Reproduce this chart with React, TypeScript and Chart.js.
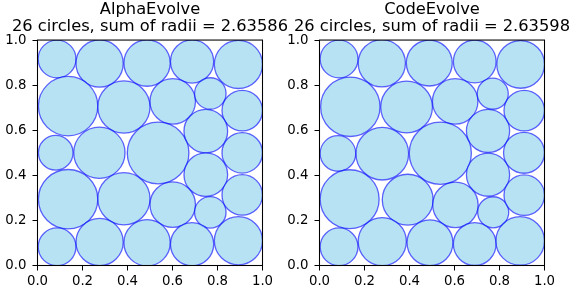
import React, { useEffect, useRef } from 'react';
import { Chart, registerables } from 'chart.js';

Chart.register(...registerables);

// ---- data ----
const tickValues = [0, 0.2, 0.4, 0.6, 0.8, 1.0];
const tickLabels = ['0.0', '0.2', '0.4', '0.6', '0.8', '1.0'];

const alphaTitle = ['AlphaEvolve', '26 circles, sum of radii = 2.63586'];
const alphaX = [0.087, 0.276, 0.487, 0.687, 0.893, 0.136, 0.384, 0.601, 0.768, 0.910, 0.081, 0.275, 0.536, 0.748, 0.748, 0.910, 0.136, 0.384, 0.601, 0.768, 0.910, 0.087, 0.276, 0.487, 0.687, 0.893];
const alphaY = [0.916, 0.896, 0.898, 0.905, 0.892, 0.707, 0.703, 0.728, 0.763, 0.687, 0.500, 0.500, 0.499, 0.596, 0.403, 0.500, 0.294, 0.296, 0.270, 0.236, 0.313, 0.083, 0.104, 0.101, 0.094, 0.110];
const alphaR = [0.084, 0.105, 0.103, 0.096, 0.107, 0.132, 0.116, 0.101, 0.070, 0.090, 0.077, 0.114, 0.137, 0.097, 0.097, 0.090, 0.132, 0.116, 0.101, 0.070, 0.090, 0.084, 0.105, 0.103, 0.096, 0.107];

const codeTitle = ['CodeEvolve', '26 circles, sum of radii = 2.63598'];
const codeX = [0.087, 0.277, 0.488, 0.690, 0.894, 0.137, 0.387, 0.603, 0.770, 0.910, 0.082, 0.279, 0.537, 0.749, 0.749, 0.909, 0.134, 0.392, 0.604, 0.772, 0.910, 0.087, 0.279, 0.491, 0.690, 0.892];
const codeY = [0.916, 0.897, 0.898, 0.905, 0.892, 0.704, 0.703, 0.728, 0.762, 0.687, 0.497, 0.496, 0.498, 0.597, 0.403, 0.500, 0.294, 0.292, 0.269, 0.236, 0.312, 0.083, 0.106, 0.101, 0.095, 0.109];
const codeR = [0.084, 0.105, 0.102, 0.095, 0.106, 0.132, 0.115, 0.101, 0.069, 0.090, 0.079, 0.117, 0.138, 0.096, 0.096, 0.091, 0.131, 0.113, 0.101, 0.069, 0.090, 0.084, 0.107, 0.102, 0.095, 0.108];

const FONT = 'DejaVu Sans';

const framePlugin = {
  id: 'frame',
  afterDatasetsDraw(chart: any) {
    const { ctx, chartArea: a } = chart;
    ctx.save();
    ctx.strokeStyle = '#000';
    ctx.lineWidth = 1.07;
    ctx.strokeRect(a.left, a.top, a.right - a.left, a.bottom - a.top);
    ctx.restore();
  },
};

function axisOpts(position: string, fit: (s: any) => void) {
  return {
    type: 'linear',
    position,
    min: 0,
    max: 1,
    grid: {
      display: true,
      drawOnChartArea: false,
      drawTicks: true,
      tickLength: 5,
      color: '#000',
      lineWidth: 1,
    },
    border: { display: false },
    ticks: {
      padding: position === 'bottom' ? 3 : 6,
      color: '#000',
      font: { family: FONT, size: 13.3 },
      maxRotation: 0,
      autoSkip: false,
      callback: (_v: any, i: number) => tickLabels[i],
    },
    afterBuildTicks: (s: any) => {
      s.ticks = tickValues.map((v) => ({ value: v }));
    },
    afterFit: fit,
  };
}

function makeConfig(title: string[], xs: number[], ys: number[], rs: number[]): any {
  const data = xs.map((x, i) => ({ x, y: ys[i], rad: rs[i] }));
  return {
    type: 'scatter',
    data: {
      datasets: [
        {
          data,
          showLine: false,
          pointBackgroundColor: 'rgba(135,206,235,0.6)',
          pointBorderColor: 'rgba(0,0,255,0.6)',
          pointBorderWidth: 1.3,
          pointHoverRadius: 0,
          clip: 0,
          pointRadius: (ctx: any) => {
            const s = ctx.chart.scales.x;
            const raw = ctx.raw;
            if (!raw || !s) return 0;
            const v = s.getPixelForValue(raw.rad) - s.getPixelForValue(0);
            return isFinite(v) ? v : 0;
          },
        },
      ],
    },
    options: {
      responsive: false,
      animation: false,
      events: [],
      layout: { padding: 0 },
      plugins: {
        legend: { display: false },
        tooltip: { enabled: false },
        title: {
          display: true,
          text: title,
          color: '#000',
          fullSize: true,
          font: { family: FONT, size: 16.3, lineHeight: 1.06, weight: 'normal' },
          padding: { top: 1, bottom: 4.5 },
        },
      },
      scales: {
        x: axisOpts('bottom', (s: any) => { s.height = 31.5; }),
        y: axisOpts('left', (s: any) => { s.width = 37.5; }),
        y2: {
          type: 'linear',
          position: 'right',
          min: 0,
          max: 1,
          display: true,
          grid: { display: false },
          border: { display: false },
          ticks: { display: false },
          afterFit: (s: any) => { s.width = 37.5; },
        },
      },
    },
    plugins: [framePlugin],
  };
}

function CircleChart({ left, title, xs, ys, rs }: { left: number; title: string[]; xs: number[]; ys: number[]; rs: number[] }) {
  const ref = useRef<HTMLCanvasElement | null>(null);
  useEffect(() => {
    if (!ref.current) return;
    const chart = new Chart(ref.current, makeConfig(title, xs, ys, rs));
    return () => chart.destroy();
  }, []);
  return (
    <canvas
      ref={ref}
      width={300}
      height={297}
      style={{ position: 'absolute', left, top: 0, width: 300, height: 297 }}
    />
  );
}

export default function App() {
  return (
    <div style={{ position: 'fixed', left: 0, top: 0, width: 571, height: 297, overflow: 'hidden', background: '#fff' }}>
      <CircleChart left={0} title={alphaTitle} xs={alphaX} ys={alphaY} rs={alphaR} />
      <CircleChart left={282} title={codeTitle} xs={codeX} ys={codeY} rs={codeR} />
    </div>
  );
}
